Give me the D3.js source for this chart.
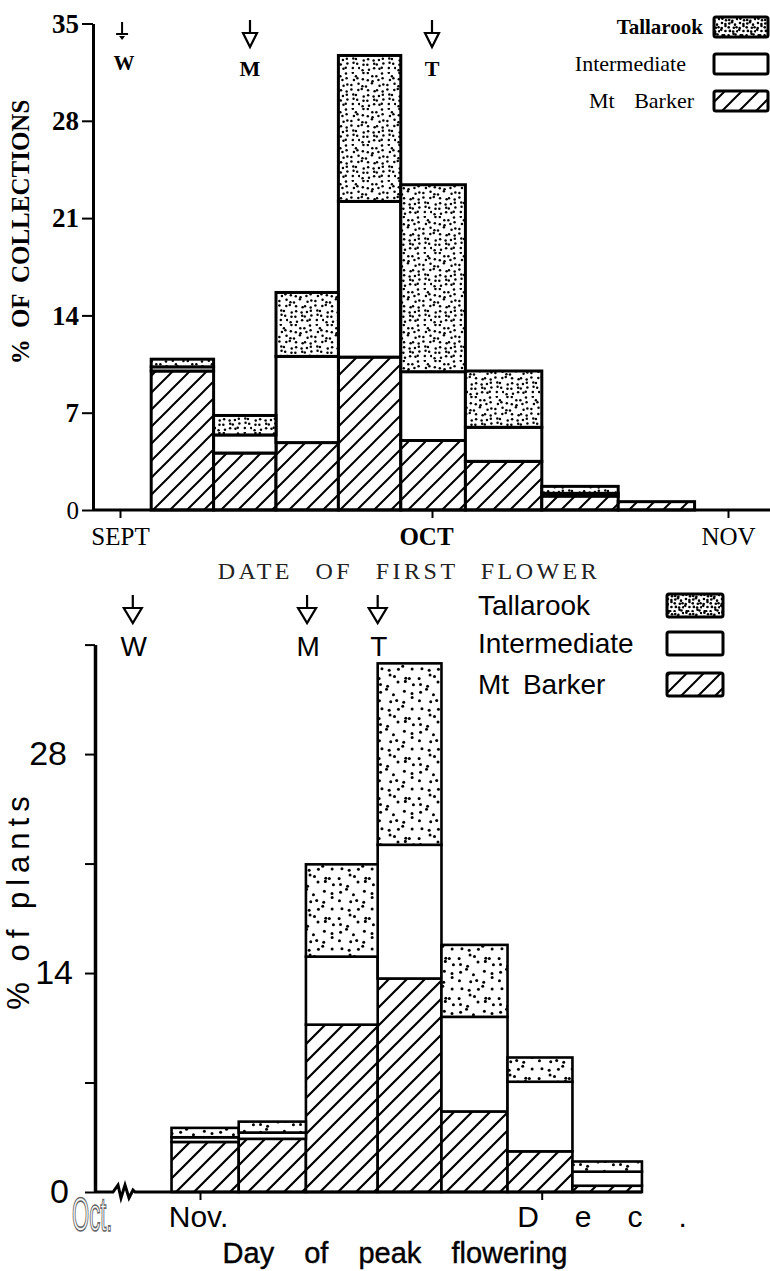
<!DOCTYPE html>
<html>
<head>
<meta charset="utf-8">
<script src="https://cdn.jsdelivr.net/npm/d3@7"></script>
<style>
body { margin: 0; background: #fff; }
svg { display: block; }
.serif { font-family: "Liberation Serif", "DejaVu Serif", serif; }
.sans { font-family: "Liberation Sans", Arial, sans-serif; }
</style>
</head>
<body>
<svg id="chart" width="770" height="1271"></svg>
<script>
// ---- top panel: date of first flower (% of collections), days after 1 Sept
var topBinStart = [3, 9, 15, 21, 27, 33.5, 41.5, 49.5];
var topBinEnd   = [9, 15, 21, 27, 33.5, 41.5, 49.5, 57.5];
var topMtBarker     = [10.0, 4.1, 4.85, 11.0, 5.0, 3.5, 1.0, 0.6];
var topIntermediate = [0.3, 1.3, 6.2, 11.2, 4.95, 2.45, 0.2, 0];
var topTallarook    = [0.55, 1.4, 4.6, 10.5, 13.45, 4.05, 0.5, 0];
var topYTicks = [0, 7, 14, 21, 28, 35];
var topMonths = ["SEPT", "OCT", "NOV"];
var topMonthDays = [0, 30, 61];
var topMarkers = ["W", "M", "T"];
var topMarkerDays = [0.2, 12.5, 30];

// ---- bottom panel: day of peak flowering (% of plants), days after 1 Nov
var botBinStart = [-2.5, 3.4, 9.3, 15.6, 21.2, 27, 32.7];
var botBinEnd   = [3.4, 9.3, 15.6, 21.2, 27, 32.7, 38.8];
var botMtBarker     = [3.2, 3.4, 10.7, 13.65, 5.15, 2.6, 0.4];
var botIntermediate = [0.3, 0.4, 4.35, 8.55, 6.05, 4.45, 0.9];
var botTallarook    = [0.6, 0.7, 5.9, 11.6, 4.6, 1.55, 0.65];
var botYTicks = [0, 7, 14, 21, 28, 35];
var botYLabels = ["0", "", "14", "", "28", ""];
var botMonths = ["Nov.", "Dec."];
var botMonthDays = [0, 30];
var botMarkers = ["W", "M", "T"];
var botMarkerDays = [-5.9, 9.4, 15.6];

var keys = ["mb", "int", "tall"];
var legendNames = ["Tallarook", "Intermediate", "Mt Barker"];

var svg = d3.select("#chart");
svg.append("rect").attr("width", 770).attr("height", 1271).attr("fill", "#fff");
var defs = svg.append("defs");

// pseudo texture helpers (decoration only)
function hash(a) { var s = Math.sin(a * 12.9898 + 78.233) * 43758.5453; return s - Math.floor(s); }

function stipple(id, size, n, r) {
    var p = defs.append("pattern").attr("id", id)
        .attr("patternUnits", "userSpaceOnUse")
        .attr("width", size).attr("height", size);
    p.append("rect").attr("width", size).attr("height", size).attr("fill", "#fff");
    var step = size / n;
    for (var i = 0; i < n; i++) {
        for (var j = 0; j < n; j++) {
            var k = i * n + j;
            p.append("circle")
                .attr("cx", (i + 0.15 + 0.7 * hash(k + 1)) * step)
                .attr("cy", (j + 0.15 + 0.7 * hash(k + 101)) * step)
                .attr("r", r)
                .attr("fill", "#000");
        }
    }
}
function hatch(id, h, w) {
    var p = defs.append("pattern").attr("id", id)
        .attr("patternUnits", "userSpaceOnUse")
        .attr("width", h).attr("height", h);
    p.append("rect").attr("width", h).attr("height", h).attr("fill", "#fff");
    p.append("path")
        .attr("d", "M0," + h + " L" + h + ",0 M" + (-h / 4) + "," + (h / 4) + " L" + (h / 4) + "," + (-h / 4) +
            " M" + (3 * h / 4) + "," + (5 * h / 4) + " L" + (5 * h / 4) + "," + (3 * h / 4))
        .attr("stroke", "#000").attr("stroke-width", w);
}
stipple("dotsTop", 36, 7, 1.25);
stipple("dotsLegTop", 18, 5, 1.3);
stipple("dotsBot", 40, 5, 1.5);
hatch("hatchTop", 17, 2);
hatch("hatchBot", 18, 2.2);

function buildRows(start, end, mb, inter, tall) {
    return start.map(function (s, i) {
        return { start: s, end: end[i], mb: mb[i], int: inter[i], tall: tall[i] };
    });
}

function drawBars(g, rows, x, y, fills, sw) {
    var stacked = d3.stack().keys(keys)(rows);
    g.selectAll(".layer").data(stacked).enter().append("g")
        .attr("class", "layer")
        .attr("fill", function (d, i) { return fills[i]; })
        .selectAll("rect")
        .data(function (d) { return d.filter(function (s) { return s[1] - s[0] > 0; }); })
        .enter().append("rect")
        .attr("x", function (d) { return x(d.data.start); })
        .attr("width", function (d) { return x(d.data.end) - x(d.data.start); })
        .attr("y", function (d) { return y(d[1]); })
        .attr("height", function (d) { return y(d[0]) - y(d[1]); })
        .attr("stroke", "#000")
        .attr("stroke-width", sw);
}

function arrow(g, x, y0, stem, tri, half, sw) {
    g.append("line").attr("x1", x).attr("x2", x).attr("y1", y0).attr("y2", y0 + stem)
        .attr("stroke", "#000").attr("stroke-width", sw);
    g.append("path")
        .attr("d", "M" + (x - half) + "," + (y0 + stem) + " L" + (x + half) + "," + (y0 + stem) +
            " L" + x + "," + (y0 + stem + tri) + " Z")
        .attr("fill", "#fff").attr("stroke", "#000").attr("stroke-width", sw);
}

// =================== TOP PANEL ===================
var xTop = d3.scaleLinear().domain(topMonthDays).range([120, 432, 728]);
var yTop = d3.scaleLinear().domain([0, 35]).range([510, 23.5]);
var gTop = svg.append("g");

drawBars(gTop, buildRows(topBinStart, topBinEnd, topMtBarker, topIntermediate, topTallarook),
    xTop, yTop, ["url(#hatchTop)", "#fff", "url(#dotsTop)"], 3);

// y axis
var ayTop = gTop.append("g").attr("transform", "translate(93,0)")
    .call(d3.axisLeft(yTop).tickValues(topYTicks).tickSize(11).tickSizeOuter(0).tickPadding(3)
        .tickFormat(d3.format("d")));
ayTop.select(".domain").attr("stroke-width", 3);
ayTop.selectAll(".tick line").attr("stroke-width", 2);
ayTop.selectAll(".tick text")
    .attr("class", "serif")
    .attr("font-size", function (d) { return d === 0 ? 25 : 27; })
    .attr("font-weight", function (d) { return d === 0 ? "normal" : "bold"; })
    .attr("fill", "#000");

// x axis
gTop.append("line").attr("x1", 93).attr("x2", 770).attr("y1", yTop(0)).attr("y2", yTop(0))
    .attr("stroke", "#000").attr("stroke-width", 3);
var axTop = gTop.append("g").attr("transform", "translate(0," + yTop(0) + ")")
    .call(d3.axisBottom(xTop).tickValues(topMonthDays).tickSize(8).tickSizeOuter(0).tickPadding(9)
        .tickFormat(function (d, i) { return topMonths[i]; }));
axTop.select(".domain").remove();
axTop.selectAll(".tick line").attr("stroke-width", 2);
axTop.selectAll(".tick text")
    .attr("class", "serif")
    .attr("font-size", 25)
    .attr("fill", "#000")
    .attr("font-weight", function (d, i) { return i === 1 ? "bold" : "normal"; })
    .attr("x", function (d, i) { return i === 1 ? -6 : 0; });

gTop.append("text").attr("class", "serif")
    .attr("transform", "translate(29,232) rotate(-90)")
    .attr("text-anchor", "middle").attr("font-size", 25).attr("font-weight", "bold")
    .attr("word-spacing", 5)
    .text("% OF COLLECTIONS");

svg.append("text").attr("class", "serif")
    .attr("x", 409).attr("y", 579).attr("text-anchor", "middle")
    .attr("font-size", 24).attr("letter-spacing", 3.5).attr("word-spacing", 13).attr("fill", "#222")
    .text("DATE OF FIRST FLOWER");

// markers
topMarkers.forEach(function (m, i) {
    var x = xTop(topMarkerDays[i]);
    if (m === "W") {
        gTop.append("line").attr("x1", x).attr("x2", x).attr("y1", 22).attr("y2", 34)
            .attr("stroke", "#000").attr("stroke-width", 2);
        gTop.append("line").attr("x1", x - 6).attr("x2", x + 6).attr("y1", 34).attr("y2", 34)
            .attr("stroke", "#000").attr("stroke-width", 2);
        gTop.append("path").attr("d", "M" + (x - 3) + ",36 L" + (x + 3) + ",36 L" + x + ",40 Z")
            .attr("fill", "#000");
        gTop.append("text").attr("class", "serif").attr("x", x + 2).attr("y", 70)
            .attr("text-anchor", "middle").attr("font-size", 21).attr("font-weight", "bold").text(m);
    } else {
        arrow(gTop, x, 20, 13, 14, 7, 2.2);
        gTop.append("text").attr("class", "serif").attr("x", x).attr("y", 76)
            .attr("text-anchor", "middle").attr("font-size", 22).attr("font-weight", "bold").text(m);
    }
});

// legend (top)
var topLegFills = ["url(#dotsLegTop)", "#fff", "url(#hatchTop)"];
var topLegEnd = [703, 686, 694];
legendNames.forEach(function (name, i) {
    var yb = 17 + i * 37;
    gTop.append("rect").attr("x", 714).attr("y", yb).attr("width", 54).attr("height", 20)
        .attr("rx", 2).attr("fill", topLegFills[i]).attr("stroke", "#000").attr("stroke-width", 3);
    gTop.append("text").attr("class", "serif")
        .attr("x", topLegEnd[i]).attr("y", yb + 17)
        .attr("text-anchor", "end")
        .attr("font-size", i === 0 ? 21 : 22)
        .attr("font-weight", i === 0 ? "bold" : "normal")
        .attr("word-spacing", i === 2 ? 14 : 0)
        .text(name);
});

// =================== BOTTOM PANEL ===================
var xBot = d3.scaleLinear().domain(botMonthDays).range([200, 541.7]);
var yBot = d3.scaleLinear().domain([0, 35]).range([1192, 644.6]);
var gBot = svg.append("g");

drawBars(gBot, buildRows(botBinStart, botBinEnd, botMtBarker, botIntermediate, botTallarook),
    xBot, yBot, ["url(#hatchBot)", "#fff", "url(#dotsBot)"], 2.6);

var ayBot = gBot.append("g").attr("transform", "translate(95,0)")
    .call(d3.axisLeft(yBot).tickValues(botYTicks).tickSize(10).tickSizeOuter(0).tickPadding(12)
        .tickFormat(function (d, i) { return botYLabels[i]; }));
ayBot.select(".domain").attr("stroke-width", 3.5);
ayBot.selectAll(".tick line").attr("stroke-width", 2);
ayBot.selectAll(".tick text").attr("class", "sans").attr("font-size", 34).attr("fill", "#000")
    .attr("dx", function (d) { return d === 28 ? -6 : (d === 0 ? -4 : 0); });

// broken x axis line
var xEnd = xBot(botBinEnd[botBinEnd.length - 1]);
gBot.append("path")
    .attr("d", "M95," + yBot(0) + " H113 L118,1185 L121,1198 L125,1185 L129,1198 L133,1190 L135," + yBot(0) + " H" + xEnd)
    .attr("fill", "none").attr("stroke", "#000").attr("stroke-width", 3);
var axBot = gBot.append("g").attr("transform", "translate(0," + yBot(0) + ")")
    .call(d3.axisBottom(xBot).tickValues(botMonthDays).tickSize(8).tickSizeOuter(0).tickPadding(6)
        .tickFormat(function (d, i) { return botMonths[i]; }));
axBot.select(".domain").remove();
axBot.selectAll(".tick line").attr("stroke-width", 2);
axBot.selectAll(".tick text").attr("class", "sans").attr("font-size", 30).attr("fill", "#000")
    .attr("text-anchor", function (d, i) { return i === 1 ? "start" : "middle"; })
    .attr("x", function (d, i) { return i === 1 ? -25 : -2; })
    .attr("letter-spacing", function (d, i) { return i === 1 ? 36 : 0; });

// outlined "Oct." at the axis break
gBot.append("text").attr("class", "sans")
    .attr("transform", "translate(72,1231) scale(0.46,1)")
    .attr("font-size", 48).attr("fill", "#fff").attr("stroke", "#666").attr("stroke-width", 1.6)
    .text("Oct.");

gBot.append("text").attr("class", "sans")
    .attr("transform", "translate(29,900) rotate(-90)")
    .attr("text-anchor", "middle").attr("font-size", 31).attr("letter-spacing", 6)
    .text("% of plants");

gBot.append("text").attr("class", "sans")
    .attr("x", 395).attr("y", 1263).attr("text-anchor", "middle")
    .attr("font-size", 29).attr("word-spacing", 22)
    .attr("stroke", "#000").attr("stroke-width", 0.4)
    .text("Day of peak flowering");

botMarkers.forEach(function (m, i) {
    var x = xBot(botMarkerDays[i]);
    arrow(gBot, x, 595, 13, 15, 9, 2.2);
    gBot.append("text").attr("class", "sans").attr("x", x + 1).attr("y", 656)
        .attr("text-anchor", "middle").attr("font-size", 28).text(m);
});

// legend (bottom)
var botLegFills = ["url(#dotsLegTop)", "#fff", "url(#hatchTop)"];
var botLegY = [594, 632, 673];
legendNames.forEach(function (name, i) {
    gBot.append("rect").attr("x", 667).attr("y", botLegY[i]).attr("width", 56).attr("height", 23)
        .attr("rx", 2).attr("fill", botLegFills[i]).attr("stroke", "#000").attr("stroke-width", 3);
    gBot.append("text").attr("class", "sans")
        .attr("x", 478).attr("y", botLegY[i] + 21)
        .attr("font-size", 28).attr("word-spacing", i === 2 ? 6 : 0)
        .text(name);
});
</script>
</body>
</html>
